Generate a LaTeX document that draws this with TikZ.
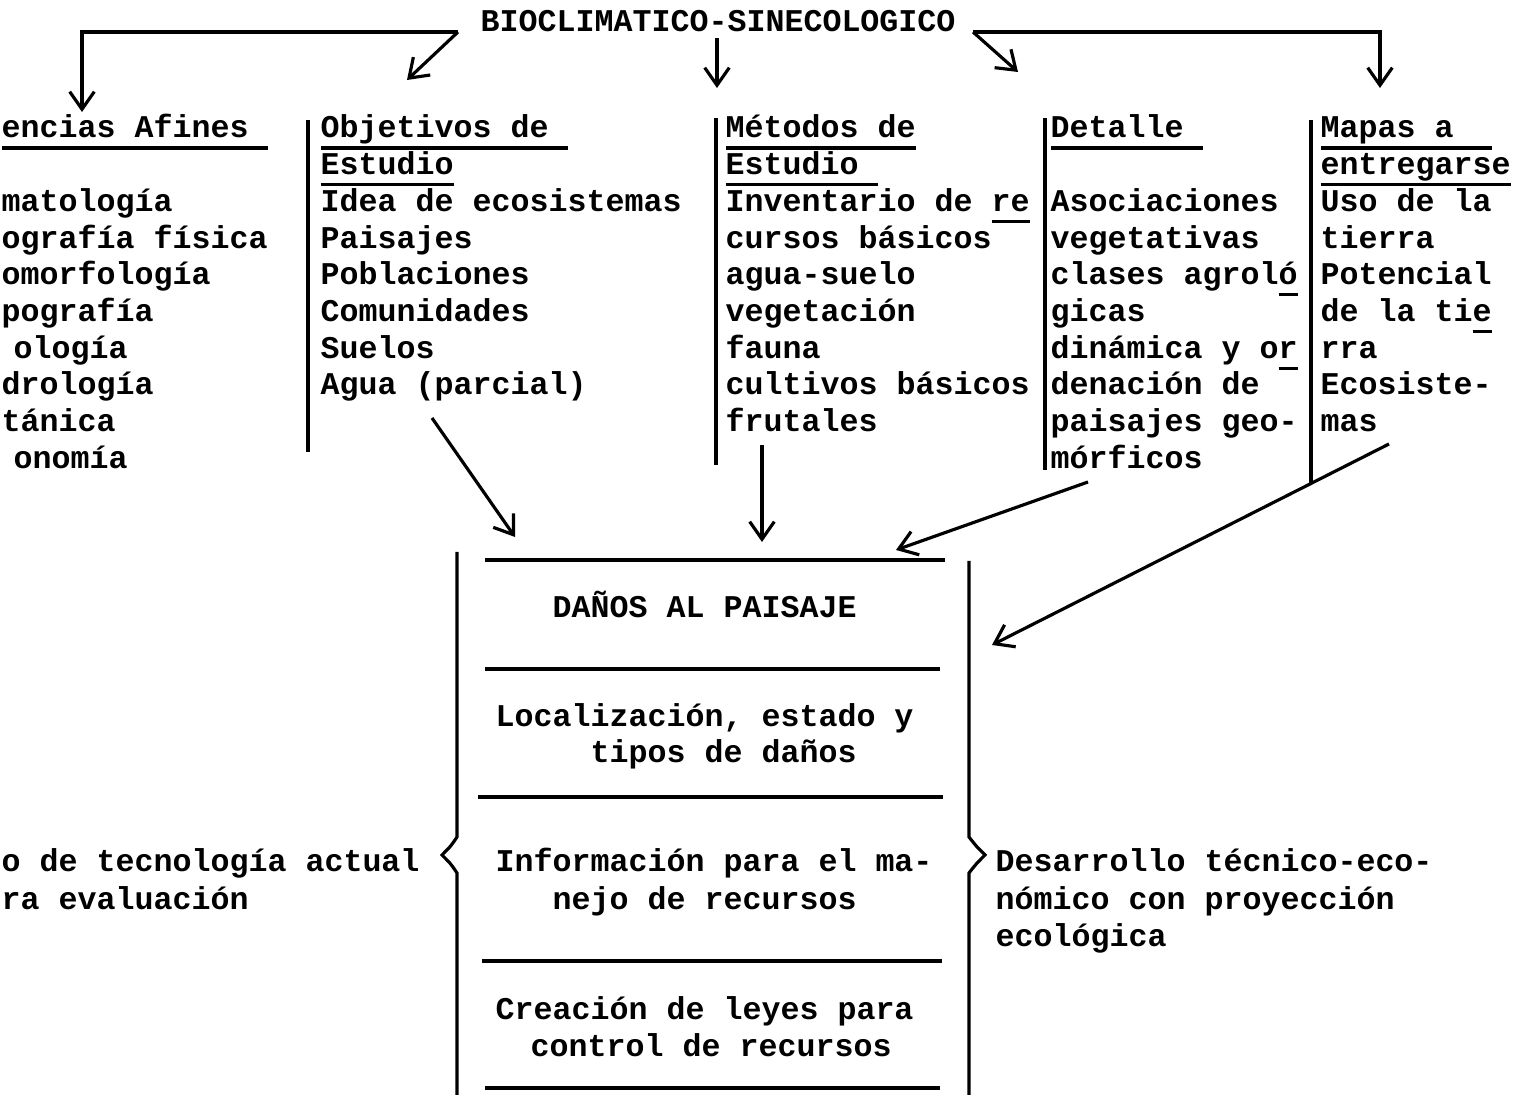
\documentclass[tikz,border=0pt]{standalone}
\usepackage{fontspec}
\setmonofont{Liberation Mono}
\usetikzlibrary{arrows.meta}

\newcommand\typewr{\ttfamily\bfseries\fontsize{9pt}{10.4pt}\selectfont}
% typewriter underline at a fixed depth
\newcommand\typeul[1]{\setbox0\hbox{#1}\rlap{\rule[-3.3pt]{\wd0}{0.9pt}}\box0}

\begin{document}
\begin{tikzpicture}[
  x=0.01cm, y=-0.01cm,
  typed/.style={font=\typewr,inner sep=0pt,anchor=base west},
  mapline/.style={line width=0.9pt},
  maparrow/.style={mapline,-{Straight Barb[length=5pt,width=7pt]}}
]
  \useasboundingbox (0,0) rectangle (1520,1095);
  \clip (0,0) rectangle (1520,1095);

  % Title and the arrows below it
  \node[typed] (title) at (480,32) {BIOCLIMATICO-SINECOLOGICO};
  \coordinate (brL) at (458,32);
  \coordinate (brR) at (973,32);
  \coordinate (afinTop) at (82,112);
  \coordinate (objTop) at (407,80);
  \coordinate (metTop) at (717,88);
  \coordinate (detTop) at (1018,72);
  \coordinate (mapaTop) at (1380,88);
  \draw[maparrow] (brL) -| (afinTop);
  \draw[maparrow] (brL) -- (objTop);
  \draw[maparrow] ([yshift=-1.5pt]title.south -| metTop) -- (metTop);
  \draw[maparrow] (brR) -- (detTop);
  \draw[maparrow] (brR) -| (mapaTop);

  % Column 1 (starts at the page edge)
  \node[typed] (afin0) at (1,138) {\typeul{encias Afines\ }};
  \foreach \r/\x/\txt in {2/1/matología,3/1/ografía física,4/1/omorfología,
      5/1/pografía,6/13/ología,7/1/drología,8/1/tánica,9/13/onomía}
    \node[typed] (afin\r) at (\x,138+36.7*\r) {\txt};

  % Column 2
  \draw[mapline] (308,120) -- (308,452);
  \foreach \r/\txt in {0/{\typeul{Objetivos de\ }},1/{\typeul{Estudio}},
      2/Idea de ecosistemas,3/Paisajes,4/Poblaciones,5/Comunidades,
      6/Suelos,7/Agua (parcial)}
    \node[typed] (obj\r) at (320,138+36.7*\r) {\txt};

  % Column 3
  \draw[mapline] (716,118) -- (716,465);
  \foreach \r/\txt in {0/{\typeul{Métodos de}},1/{\typeul{Estudio\ }},
      2/{Inventario de \typeul{re}},3/cursos básicos,4/agua-suelo,
      5/vegetación,6/fauna,7/cultivos básicos,8/frutales}
    \node[typed] (met\r) at (725,138+36.7*\r) {\txt};

  % Column 4
  \draw[mapline] (1045,118) -- (1045,470);
  \foreach \r/\txt in {0/{\typeul{Detalle\ }},2/Asociaciones,3/vegetativas,
      4/{clases agrol\typeul{ó}},5/gicas,6/{dinámica y o\typeul{r}},
      7/denación de,8/paisajes geo-,9/mórficos}
    \node[typed] (det\r) at (1050,138+36.7*\r) {\txt};

  % Column 5
  \draw[mapline] (1311,120) -- (1311,484);
  \foreach \r/\txt in {0/{\typeul{Mapas a\ \ }},1/{\typeul{entregarse}},
      2/Uso de la,3/tierra,4/Potencial,5/{de la ti\typeul{e}},6/rra,
      7/Ecosiste-,8/mas}
    \node[typed] (mapa\r) at (1320,138+36.7*\r) {\txt};

  % Arrows into the damage box
  \coordinate (aguaEnd) at (432,418);
  \coordinate (frutEnd) at (762,445);
  \coordinate (morfEnd) at (1088,482);
  \coordinate (masEnd) at (1389,444);
  \coordinate (boxA) at (515,537);
  \coordinate (boxB) at (762,542);
  \coordinate (boxC) at (896,550);
  \coordinate (boxD) at (992,645);
  \draw[maparrow] (aguaEnd) -- (boxA);
  \draw[maparrow] (frutEnd) -- (boxB);
  \draw[maparrow] (morfEnd) -- (boxC);
  \draw[maparrow] (masEnd) -- (boxD);

  % Damage box with braces
  \draw[mapline] (457,552) -- (457,837) .. controls (451,846) .. (442,855)
    .. controls (451,864) .. (457,873) -- (457,1100);
  \draw[mapline] (969,561) -- (969,837) .. controls (976,846) .. (985,855)
    .. controls (976,864) .. (969,873) -- (969,1100);
  \draw[mapline] (485,560) -- (945,560);
  \draw[mapline] (485,669) -- (940,669);
  \draw[mapline] (478,797) -- (943,797);
  \draw[mapline] (482,961) -- (942,961);
  \draw[mapline] (485,1088) -- (940,1088);

  \node[typed] (dano) at (552,618) {DAÑOS AL PAISAJE};
  \node[typed] (loc1) at (495,727) {Localización, estado y};
  \node[typed] (loc2) at (590,763) {tipos de daños};
  \node[typed] (inf1) at (495,872) {Información para el ma-};
  \node[typed] (inf2) at (552,910) {nejo de recursos};
  \node[typed] (cre1) at (495,1020) {Creación de leyes para};
  \node[typed] (cre2) at (530,1057) {control de recursos};

  % Side texts
  \node[typed] (tec1) at (1,872) {o de tecnología actual};
  \node[typed] (tec2) at (1,910) {ra evaluación};
  \node[typed] (des1) at (995,872) {Desarrollo técnico-eco-};
  \node[typed] (des2) at (995,910) {nómico con proyección};
  \node[typed] (des3) at (995,947) {ecológica};
\end{tikzpicture}
\end{document}
